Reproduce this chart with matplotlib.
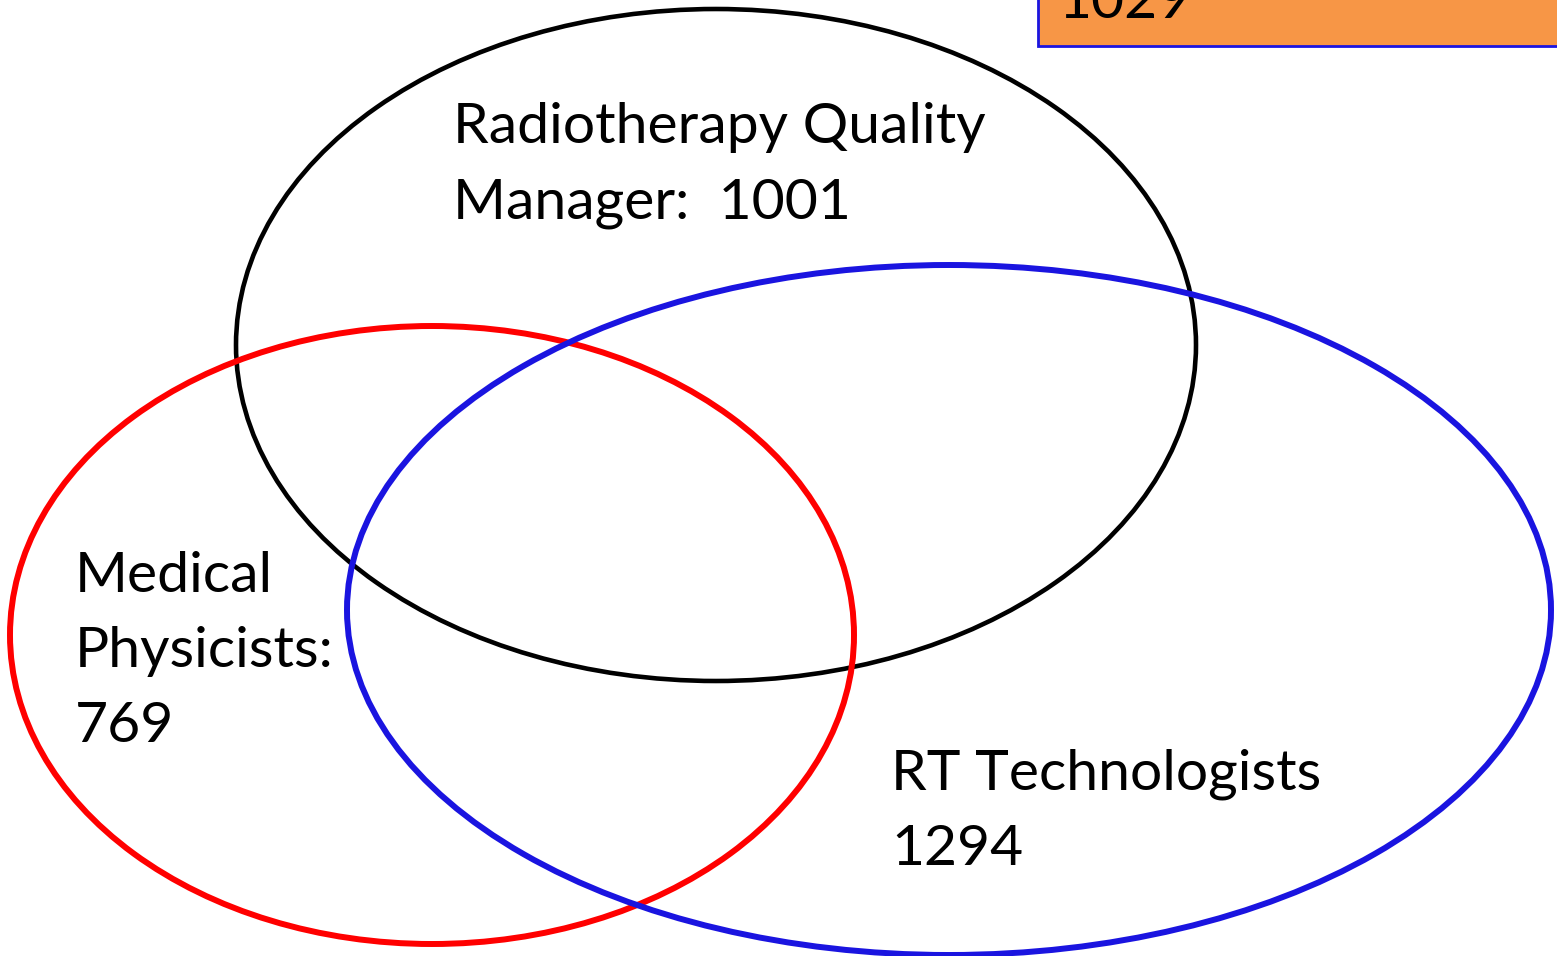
import matplotlib.pyplot as plt
from matplotlib.patches import Ellipse, Rectangle

# groups and counts shown in the diagram
groups = ["Radiotherapy Quality\nManager:  1001", "Medical\nPhysicists:\n769", "RT Technologists\n1294"]
total_label = "1029"

# layout in pixel space (x, y of centre, width, height)
ellipse_geom = [(716, 345, 960, 672), (432, 635, 844, 618), (949, 610, 1204, 690)]
ellipse_colors = ["black", "#ff0000", "#1a14e0"]
ellipse_lw = [3.3, 4.3, 4.3]
label_pos = [(453, 143), (75, 592), (891, 790)]
line_step = 75

plt.rcParams['font.family'] = ['Lato', 'DejaVu Sans']

fig = plt.figure(figsize=(15.57, 9.56), dpi=100)
ax = fig.add_axes([0, 0, 1, 1])
ax.set_xlim(0, 1557)
ax.set_ylim(956, 0)
ax.axis('off')

for (cx, cy, w, h), col, lw in zip(ellipse_geom, ellipse_colors, ellipse_lw):
    ax.add_patch(Ellipse((cx, cy), w, h, fill=False, edgecolor=col, linewidth=lw))

# orange box, mostly cut off at the top-right
ax.add_patch(Rectangle((1038, -60), 600, 106, facecolor="#f79646", edgecolor="#1a14e0", linewidth=2))
ax.text(1058, 18, total_label, fontsize=41, va='baseline', ha='left', color='black')

for text, (x, y) in zip(groups, label_pos):
    for i, line in enumerate(text.split("\n")):
        ax.text(x, y + i * line_step, line, fontsize=41, va='baseline', ha='left', color='black')

fig.savefig("out.png", dpi=100)
